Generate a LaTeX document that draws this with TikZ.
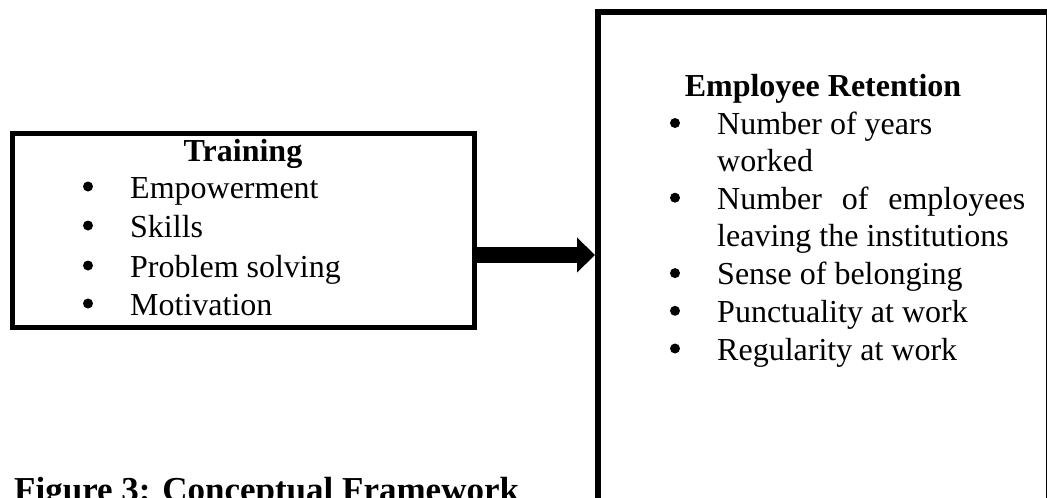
\documentclass[tikz,border=0pt]{standalone}
\usepackage{fontspec}
\setmainfont{Liberation Serif}
\usetikzlibrary{arrows.meta}
\tikzset{
  box/.style={draw=black, line width=5pt, fill=none, inner sep=0pt},
  bigbox/.style={draw=black, line width=6pt, fill=none, inner sep=0pt},
  txt/.style={anchor=base west, inner sep=0pt, font=\fontsize{32}{38}\selectfont},
  head/.style={anchor=base, inner sep=0pt, font=\fontsize{32}{38}\selectfont\bfseries},
  bul/.style={circle, fill=black, draw=none, inner sep=0pt, minimum size=10pt},
  bigarrow/.style={line width=16pt, -{Triangle[length=18pt,width=34pt]}}
}
\begin{document}
\begin{tikzpicture}[x=1pt,y=-1pt]
\useasboundingbox (0,0) rectangle (1047,498);
% boxes
\node[box, minimum width=462pt, minimum height=194pt] (train) at (243,230) {};
\node[bigbox, minimum width=450.5pt, minimum height=548pt] (ret) at (823.25,285.5) {};
% left box text
\node[head] (th) at (243,161) {Training};
\begin{scope}
\clip (12,134) rectangle (474,318);
\node[bul] (tb1) at (88,186.5) {};
\node[txt] (t1) at (130,198) {Empowerment};
\node[bul] (tb2) at (88,225.5) {};
\node[txt] (t2) at (130,237) {Skills};
\node[bul] (tb3) at (88,265.5) {};
\node[txt] (t3) at (130,277) {Problem solving};
\node[bul] (tb4) at (88,303.5) {};
\node[txt] (t4) at (130,315) {Motivation};
\end{scope}
% right box text
\node[head] (rh) at (823,96) {Employee Retention};
\node[bul] (rb1) at (675,123) {};
\node[txt] (r1) at (717,134.5) {Number of years};
\node[txt] (r1b) at (717,171.5) {worked};
\node[bul] (rb2) at (675,197.7) {};
\node[txt] (r2) at (717,209.2) {\makebox[308pt][s]{Number of employees}};
\node[txt] (r2b) at (717,246.9) {leaving the institutions};
\node[bul] (rb3) at (675,273.1) {};
\node[txt] (r3) at (717,284.6) {Sense of belonging};
\node[bul] (rb4) at (675,310.8) {};
\node[txt] (r4) at (717,322.3) {Punctuality at work};
\node[bul] (rb5) at (675,348.5) {};
\node[txt] (r5) at (717,360) {Regularity at work};
% arrow
\coordinate (as) at (train.east |- 0,255);
\coordinate (ae) at (ret.west |- 0,255);
\draw[bigarrow] (as) -- (ae);
% caption
\node[txt, font=\fontsize{35}{40}\selectfont\bfseries] (cap) at (14,501) {Figure 3: Conceptual Framework};
\end{tikzpicture}
\end{document}
